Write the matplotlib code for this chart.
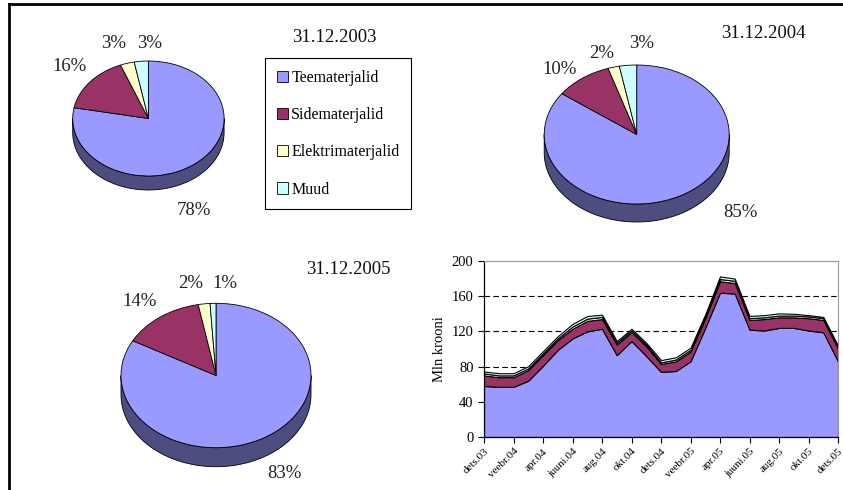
import numpy as np
import matplotlib
matplotlib.use("Agg")
import matplotlib.pyplot as plt
from matplotlib.patches import Polygon, Patch
from matplotlib.lines import Line2D

plt.rcParams['font.family'] = ['Liberation Serif', 'DejaVu Serif']

W, H = 843, 490

# --- data ---
categories = ['Teematerjalid', 'Sidematerjalid', 'Elektrimaterjalid', 'Muud']
colors = ['#9999ff', '#993366', '#ffffcc', '#ccffff']

pie_2003 = [78, 16, 3, 3]
pie_2004 = [85, 10, 2, 3]
pie_2005 = [83, 14, 2, 1]

# monthly stock, Mln krooni, dets.03 .. dets.05
tee = [58, 57, 57, 64, 81, 99, 112, 120, 123, 93, 109, 92, 74,
       75, 86, 124, 164, 163, 122, 121, 124, 124, 121, 119, 86]
side = [12, 11, 11, 12, 12, 11, 11, 12, 11, 12, 10, 11, 9,
        11, 11, 11, 13, 12, 11, 13, 12, 12, 14, 14, 14.5]
elek = [2.2, 2, 2, 2, 2, 2, 2.5, 2.5, 2.5, 2, 2, 2, 1.8,
        2, 2, 2, 2.5, 2.5, 2, 2, 2, 2, 2, 2, 2.2]
muud = [2.2, 2.5, 2.5, 2.5, 2.5, 2.5, 3, 3, 2.5, 2, 2, 2, 2.6,
        2.5, 2.5, 2.5, 3, 2.5, 2.5, 2.5, 2.5, 2, 1.5, 1.5, 1]
tick_labels = ['dets.03', 'veebr.04', 'apr.04', 'juuni.04', 'aug.04', 'okt.04',
               'dets.04', 'veebr.05', 'apr.05', 'juuni.05', 'aug.05', 'okt.05',
               'dets.05']

fig = plt.figure(figsize=(W / 100, H / 100), dpi=100)


def draw_pie(shares, cx, cy, a, b, depth, label_xy, title, title_xy):
    L = 1.5
    ax = fig.add_axes([(cx - L * a) / W, 1 - (cy + L * b) / H,
                       2 * L * a / W, 2 * L * b / H])
    wedges, _ = ax.pie(shares, colors=colors, startangle=90, counterclock=False,
                       radius=1, wedgeprops=dict(edgecolor='black', linewidth=0.6))
    ax.set_aspect('auto')
    ax.set_xlim(-L, L)
    ax.set_ylim(-L, L)
    ax.axis('off')
    d = depth / b
    # visible front rim of each wedge (angles in -180..0 or 180..360)
    for w, c in zip(wedges, colors):
        for lo, hi in [(-180, 0), (180, 360)]:
            t1, t2 = max(w.theta1, lo), min(w.theta2, hi)
            if t2 <= t1:
                continue
            t = np.radians(np.linspace(t1, t2, 80))
            xs = np.concatenate([np.cos(t), np.cos(t[::-1])])
            ys = np.concatenate([np.sin(t), np.sin(t[::-1]) - d])
            dark = tuple(v * 0.5 for v in matplotlib.colors.to_rgb(c))
            ax.add_patch(Polygon(np.column_stack([xs, ys]), closed=True,
                                 facecolor=dark, edgecolor='black',
                                 linewidth=0.6, zorder=0.5))
    for v, (px, py) in zip(shares, label_xy):
        fig.text(px / W, 1 - py / H, f"{v}%", ha='center', va='center',
                 fontsize=13.5, color='#222222')
    fig.text(title_xy[0] / W, 1 - title_xy[1] / H, title, ha='center',
             va='center', fontsize=13.5, color='#111111')


draw_pie(pie_2003, 148.4, 118.5, 75.7, 57.5, 14,
         [(194, 210), (70, 66), (114, 44), (150, 44)],
         '31.12.2003', (334, 37))
draw_pie(pie_2004, 636.7, 134.5, 92.5, 69.5, 18,
         [(740, 212), (560, 69), (602, 53), (642, 44)],
         '31.12.2004', (763, 34))
draw_pie(pie_2005, 216, 375.5, 95, 72.2, 19,
         [(284, 473), (140, 301), (191, 284), (225, 284)],
         '31.12.2005', (348, 269))

# legend
handles = [Patch(facecolor=c, edgecolor='black', linewidth=0.6) for c in colors]
leg = fig.legend(handles, categories, loc='upper left',
                 bbox_to_anchor=(265 / W, 1 - 58.3 / H), borderaxespad=0,
                 fontsize=11.5, frameon=True, fancybox=False, edgecolor='black',
                 framealpha=1, handlelength=0.72, handleheight=0.72,
                 handletextpad=0.2, labelspacing=1.33, borderpad=0.72)
leg.get_frame().set_linewidth(0.8)

# area chart
ax = fig.add_axes([484 / W, 1 - 437 / H, 354 / W, 176 / H])
months = np.arange(len(tee))
ax.stackplot(months, tee, side, elek, muud, colors=colors,
             edgecolor='black', linewidth=0.8, zorder=2)
ax.set_xlim(0, len(tee) - 1)
ax.set_ylim(0, 200)
ax.set_yticks(np.arange(0, 201, 40))
ax.set_xticks(months[::2])
ax.set_xticklabels(tick_labels, rotation=45, ha='right', rotation_mode='anchor',
                   fontsize=8)
ax.tick_params(axis='y', labelsize=10.5, length=4, width=0.8)
ax.tick_params(axis='x', length=4, width=0.8, pad=3)
for y in [40, 80, 120, 160]:
    ax.axhline(y, color='black', linewidth=0.8, linestyle=(0, (5, 3)), zorder=1)
ax.set_ylabel('Mln krooni', fontsize=10.5, labelpad=4)
for s in ['top', 'right']:
    ax.spines[s].set_color('#999999')
ax.spines['left'].set_linewidth(0.9)
ax.spines['bottom'].set_linewidth(0.9)

# page frame (top and left edges)
fig.add_artist(Line2D([9 / W, 1], [1 - 4.5 / H, 1 - 4.5 / H], color='black',
                      linewidth=2, transform=fig.transFigure))
fig.add_artist(Line2D([9 / W, 9 / W], [1 - 4.5 / H, 0], color='black',
                      linewidth=2, transform=fig.transFigure))

fig.savefig('out.png', dpi=100)
